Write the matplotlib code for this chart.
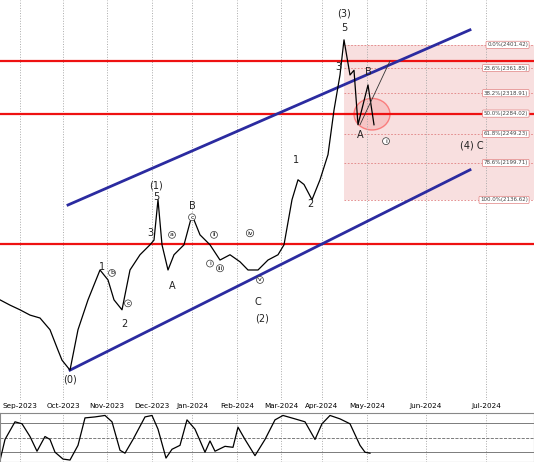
import matplotlib
matplotlib.use('Agg')
import matplotlib.pyplot as plt
from matplotlib.patches import Rectangle, Ellipse

# price path (bar index, close)
bars = [0, 5, 10, 15, 20, 25, 29, 31, 35, 39, 44, 50, 54, 57, 61, 65, 70, 75, 77, 79,
        81, 84, 87, 92, 96, 100, 105, 110, 115, 120, 124, 129, 134, 139, 142, 146, 149,
        152, 156, 160, 164, 167, 170, 172, 175, 177, 179, 184, 187]
closes = [1966, 1957, 1949, 1940, 1935, 1915, 1880, 1863, 1846, 1915, 1966, 2017, 2000,
          1966, 1949, 2017, 2043, 2060, 2068, 2137, 2060, 2017, 2043, 2060, 2111, 2077,
          2060, 2034, 2043, 2031, 2017, 2017, 2034, 2043, 2060, 2137, 2171, 2163, 2137,
          2171, 2214, 2290, 2350, 2410, 2350, 2358, 2265, 2333, 2265]

month_labels = ['Sep-2023', 'Oct-2023', 'Nov-2023', 'Dec-2023', 'Jan-2024', 'Feb-2024',
                'Mar-2024', 'Apr-2024', 'May-2024', 'Jun-2024', 'Jul-2024']
month_bars = [10, 31.5, 53.5, 76, 96, 118.5, 140.5, 161, 183.5, 213, 243]

fib_levels = [0.0, 23.6, 38.2, 50.0, 61.8, 78.6, 100.0]
fib_prices = [2401.42, 2361.85, 2318.91, 2284.02, 2249.23, 2199.71, 2136.62]
hlines = [2374, 2283.6, 2061.5]

stoch_bars = [0, 2.5, 7.5, 11, 15, 18.5, 22.5, 25, 27.5, 31.5, 35, 39, 42.5, 47.5, 52.5,
              56, 60, 62.5, 66.5, 72.5, 76, 79, 83, 86, 90, 93.5, 97.5, 102.5, 105, 107.5,
              112.5, 116.5, 119, 122.5, 127.5, 132.5, 137.5, 141.5, 147.5, 152.5, 157.5,
              161, 165, 170, 175, 180, 182.5, 185]
stoch_vals = [3, 46, 82, 78, 52, 22, 52, 46, 20, 6, 4, 34, 90, 92, 95, 82, 24, 18, 46, 92,
              95, 67, 8, 26, 34, 86, 67, 20, 43, 22, 32, 30, 71, 46, 13, 46, 86, 95, 88,
              82, 46, 78, 95, 88, 78, 34, 20, 18]

fig = plt.figure(figsize=(5.34, 4.62), dpi=100)
ax = fig.add_axes([0, 62 / 462, 1, 400 / 462])
ax2 = fig.add_axes([0, 0, 1, 49 / 462])
xmax = 267

ax.set_xlim(0, xmax)
ax.set_ylim(1795, 2478)
for m in month_bars:
    ax.axvline(m, color='#aaaaaa', ls=':', lw=0.7)
    ax2.axvline(m, color='#aaaaaa', ls=':', lw=0.7)

# fib box
ax.add_patch(Rectangle((172, fib_prices[-1]), xmax - 172, fib_prices[0] - fib_prices[-1],
                       color='#f4c6c6', alpha=0.55, lw=0))
for lv, p in zip(fib_levels, fib_prices):
    ax.plot([172, xmax], [p, p], color='#e08080', ls=(0, (2, 2)), lw=0.6)
    ax.text(264, p, f'{lv:.1f}%({p:.2f})', fontsize=4.0, color='#444444', ha='right',
            va='center', bbox=dict(boxstyle='round,pad=0.2', fc='white', ec='#e08080', lw=0.5))

for h in hlines:
    ax.axhline(h, color='#ee1111', lw=1.6)

# channel
ax.plot([34, 235], [2128, 2427], color='#2b2ba0', lw=2)
ax.plot([35, 235], [1846, 2188], color='#2b2ba0', lw=2)

ax.plot(bars, closes, color='black', lw=0.9)
ax.plot([180, 195], [2265, 2374], color='#333333', lw=0.6)
ax.add_patch(Ellipse((186, 2283), 18, 54, fc='#f4a0a0', alpha=0.4, ec='red', lw=1))

big = [('(3)', 172, 2455), ('5', 172, 2430), ('3', 169, 2363), ('B', 184, 2355),
       ('A', 180, 2247), ('(4) C', 236, 2230), ('1', 148, 2205), ('2', 155, 2130),
       ('(1)', 78, 2162), ('5', 78, 2141), ('B', 96, 2126), ('3', 75, 2080), ('A', 86, 1990),
       ('C', 129, 1962), ('(2)', 131, 1935), ('1', 51, 2022), ('2', 62, 1925),
       ('(0)', 35, 1830)]
for t, x, y in big:
    ax.text(x, y, t, fontsize=7, ha='center', va='center', color='#222222')
small = [('i', 193, 2237), ('a', 86, 2077), ('b', 56, 2012), ('c', 64, 1960),
         ('c', 96, 2107), ('ii', 107, 2077), ('i', 105, 2028), ('iii', 110, 2020),
         ('iv', 125, 2080), ('v', 130, 2000)]
for t, x, y in small:
    ax.text(x, y, t, fontsize=4.5, ha='center', va='center',
            bbox=dict(boxstyle='circle,pad=0.15', fc='white', ec='#333333', lw=0.5))

ax.set_xticks(month_bars)
ax.set_xticklabels(month_labels, fontsize=5.2)
ax.tick_params(axis='x', length=0, pad=2)
ax.set_yticks([])
for s in ax.spines.values():
    s.set_visible(False)

ax2.set_xlim(0, xmax)
ax2.set_ylim(0, 100)
for lvl, st in [(80, '-'), (50, '--'), (20, '-')]:
    ax2.axhline(lvl, color='#666666', ls=st, lw=0.6)
ax2.plot(stoch_bars, stoch_vals, color='black', lw=0.9)
ax2.set_xticks([])
ax2.set_yticks([])
for s in ax2.spines.values():
    s.set_color('#888888')

fig.savefig('out.png', dpi=100)
